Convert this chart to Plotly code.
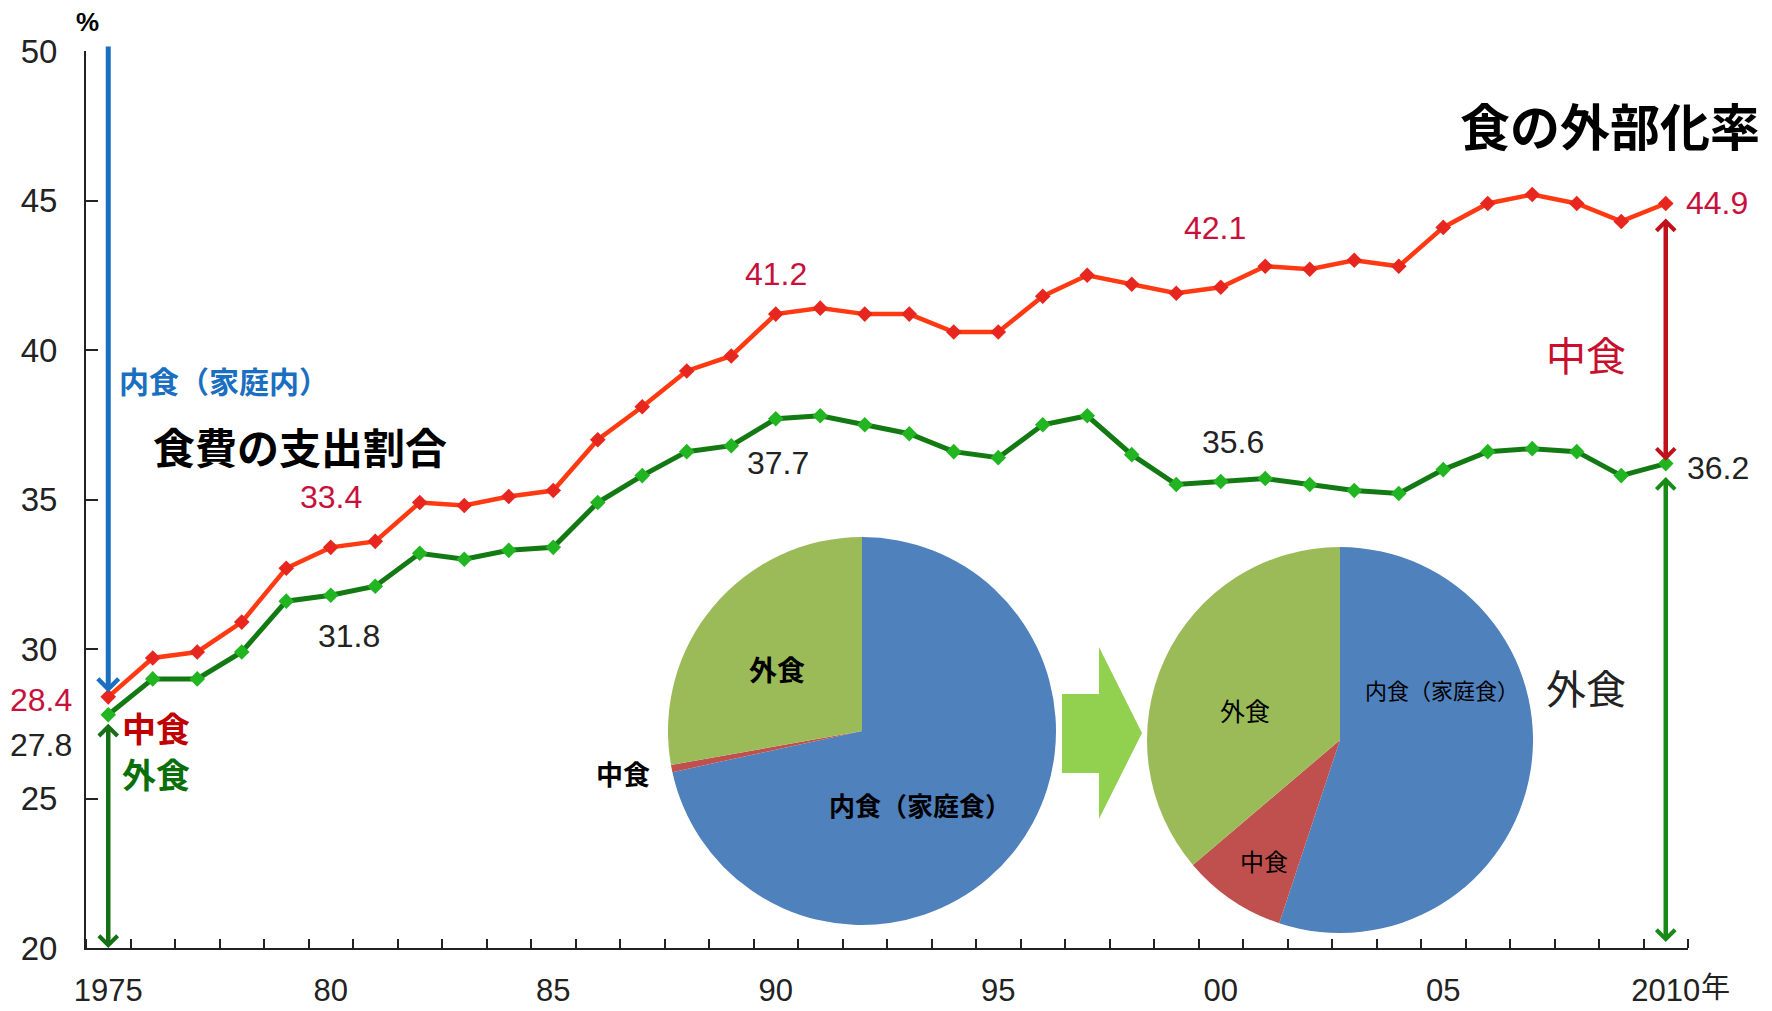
import plotly.graph_objects as go

# --- data -------------------------------------------------------------
years = list(range(1975, 2011))

# 食の外部化率 (外食 + 中食), %
rate_external = [28.4, 29.7, 29.9, 30.9, 32.7, 33.4, 33.6, 34.9, 34.8, 35.1,
                 35.3, 37.0, 38.1, 39.3, 39.8, 41.2, 41.4, 41.2, 41.2, 40.6,
                 40.6, 41.8, 42.5, 42.2, 41.9, 42.1, 42.8, 42.7, 43.0, 42.8,
                 44.1, 44.9, 45.2, 44.9, 44.3, 44.9]

# 外食率, %
rate_eating_out = [27.8, 29.0, 29.0, 29.9, 31.6, 31.8, 32.1, 33.2, 33.0, 33.3,
                   33.4, 34.9, 35.8, 36.6, 36.8, 37.7, 37.8, 37.5, 37.2, 36.6,
                   36.4, 37.5, 37.8, 36.5, 35.5, 35.6, 35.7, 35.5, 35.3, 35.2,
                   36.0, 36.6, 36.7, 36.6, 35.8, 36.2]

x_tick_years = [1975, 1980, 1985, 1990, 1995, 2000, 2005, 2010]
x_tick_text = ["1975", "80", "85", "90", "95", "00", "05", "2010"]
x_unit = "年"
y_ticks = [20, 25, 30, 35, 40, 45, 50]

labelled_years = [1975, 1980, 1990, 2000, 2010]
pie_labels = ["内食（家庭食）", "中食", "外食"]

# --- canvas geometry -----------------------------------------------------
W, H = 1772, 1011
ML, MR, MT, MB = 86, 84, 51, 63
PW, PH = W - ML - MR, H - MT - MB


def px(xp):
    return (xp - ML) / PW


def py(yp):
    return (H - MB - yp) / PH


JP = "Noto Sans CJK JP"
NUM = "Liberation Sans"
RED_TXT = "#C8103C"
DARK = "#222222"
TICK_SIZE = 31

fig = go.Figure()

# --- lines ----------------------------------------------------------------
fig.add_trace(go.Scatter(
    x=years, y=rate_external, mode="lines+markers",
    line=dict(color="#FF3A12", width=4.5),
    marker=dict(symbol="diamond", size=12, color="#E6261F"),
    showlegend=False, hoverinfo="x+y"))
fig.add_trace(go.Scatter(
    x=years, y=rate_eating_out, mode="lines+markers",
    line=dict(color="#137A13", width=5),
    marker=dict(symbol="diamond", size=12, color="#22B522"),
    showlegend=False, hoverinfo="x+y"))

# --- pies (share of food spending) -------------------------------------------
first, last = 0, len(years) - 1


def shares(i):
    ext, out = rate_external[i], rate_eating_out[i]
    return [round(100 - ext, 1), round(ext - out, 1), out]


pie_colors = ["#4F81BD", "#C0504D", "#9BBB59"]


def add_pie(vals, cx, cy, r):
    fig.add_trace(go.Pie(
        labels=pie_labels, values=vals, sort=False, direction="clockwise",
        rotation=0, textinfo="none", hoverinfo="label+value",
        marker=dict(colors=pie_colors, line=dict(width=0)),
        domain=dict(x=[px(cx - r), px(cx + r)], y=[py(cy + r), py(cy - r)]),
        showlegend=False))


add_pie(shares(first), 862, 731, 194)
add_pie(shares(last), 1340, 740, 193)

annotations = []


def text(s, x, y, size, color="black", bold=False, font=JP, xanchor="center"):
    annotations.append(dict(
        x=px(x), y=py(y), xref="paper", yref="paper", showarrow=False,
        text=f"<b>{s}</b>" if bold else s, xanchor=xanchor, yanchor="middle",
        font=dict(family=font, size=size, color=color)))


# pie labels
text(pie_labels[2], 777, 669, 28, bold=True)
text(pie_labels[0], 920, 804, 26, bold=True)
text(pie_labels[1], 623, 773, 27, bold=True)
text(pie_labels[0], 1442, 689, 22)
text(pie_labels[2], 1245, 710, 25)
text(pie_labels[1], 1264, 860, 24)

# headings and captions
text("食の外部化率", 1610, 124, 50, bold=True)
text("食費の支出割合", 300, 445, 42, bold=True)
text("内食（家庭内）", 224, 380, 30, color="#1A6FC0", bold=True)
text("中食", 156, 727, 34, color="#C00000", bold=True)
text("外食", 156, 773, 34, color="#0A6E0A", bold=True)
text("中食", 1586, 354, 40, color="#C8102E")
text("外食", 1586, 687, 40, color=DARK)
text("%", 87, 22, 26, bold=True, font=NUM)

# unit after the last year label
annotations.append(dict(
    x=x_tick_years[-1], y=py(985), xref="x", yref="paper", showarrow=False,
    text=x_unit, xanchor="left", yanchor="middle", xshift=33,
    font=dict(family=JP, size=29, color=DARK)))

# value labels at decade points
label_offsets = {
    1975: ((-67, -3, RED_TXT), (-67, -30, DARK)),
    1980: ((0, 50, RED_TXT), (18, -41, DARK)),
    1990: ((0, 40, RED_TXT), (2, -44, DARK)),
    2000: ((-6, 59, RED_TXT), (12, 40, DARK)),
    2010: ((51, 0, RED_TXT), (52, -4, DARK)),
}
for yr in labelled_years:
    i = years.index(yr)
    for series, (dx, dy, col) in zip((rate_external, rate_eating_out), label_offsets[yr]):
        annotations.append(dict(
            x=yr, y=series[i], xref="x", yref="y", showarrow=False,
            text=f"{series[i]:.1f}", xshift=dx, yshift=dy,
            font=dict(family=NUM, size=32, color=col)))


# arrows
def arrow(x, y0, y1, color, width, both=False):
    a = dict(x=x, y=y1, ax=x, ay=y0, xref="x", yref="y", axref="x", ayref="y",
             text="", showarrow=True, arrowhead=4, arrowsize=0.8,
             arrowwidth=width, arrowcolor=color)
    if both:
        a.update(arrowside="end+start", startarrowhead=4, startarrowsize=0.8)
    annotations.append(a)


arrow(years[first], 50.2, rate_external[first] + 0.15, "#1A6FC0", 5)
arrow(years[first], rate_eating_out[first] - 0.25, 20.0, "#157015", 4.5, both=True)
arrow(years[last], rate_external[last] - 0.45, rate_eating_out[last] + 0.1, "#C0101A", 4.5, both=True)
arrow(years[last], rate_eating_out[last] - 0.4, 20.2, "#178A17", 4.5, both=True)

# block arrow between the pies
pts = [(1062, 694), (1099, 694), (1099, 647), (1142, 733), (1099, 819), (1099, 773), (1062, 773)]
path = "M " + " L ".join(f"{px(a):.5f},{py(b):.5f}" for a, b in pts) + " Z"

fig.update_layout(
    width=W, height=H,
    margin=dict(l=ML, r=MR, t=MT, b=MB),
    paper_bgcolor="white", plot_bgcolor="white",
    annotations=annotations,
    shapes=[dict(type="path", path=path, xref="paper", yref="paper",
                 fillcolor="#92D050", line=dict(width=0), layer="above")],
    xaxis=dict(
        range=[1974.5, 2010.5], tickvals=x_tick_years, ticktext=x_tick_text,
        ticks="", showgrid=False, zeroline=False, automargin=False,
        showline=True, linecolor="#222", linewidth=2,
        tickfont=dict(family=NUM, size=TICK_SIZE, color=DARK), ticklabelstandoff=14,
        minor=dict(tick0=1974.5, dtick=1, ticks="inside", ticklen=9,
                   tickwidth=1.5, tickcolor="#222", showgrid=False),
    ),
    yaxis=dict(
        range=[20, 50], tickvals=y_ticks, ticks="inside", ticklen=12,
        tickwidth=1.5, tickcolor="#222", showgrid=False, zeroline=False,
        automargin=False,
        showline=True, linecolor="#222", linewidth=2,
        tickfont=dict(family=NUM, size=33, color=DARK), ticklabelstandoff=20,
    ),
)

fig.write_html("out.html")
